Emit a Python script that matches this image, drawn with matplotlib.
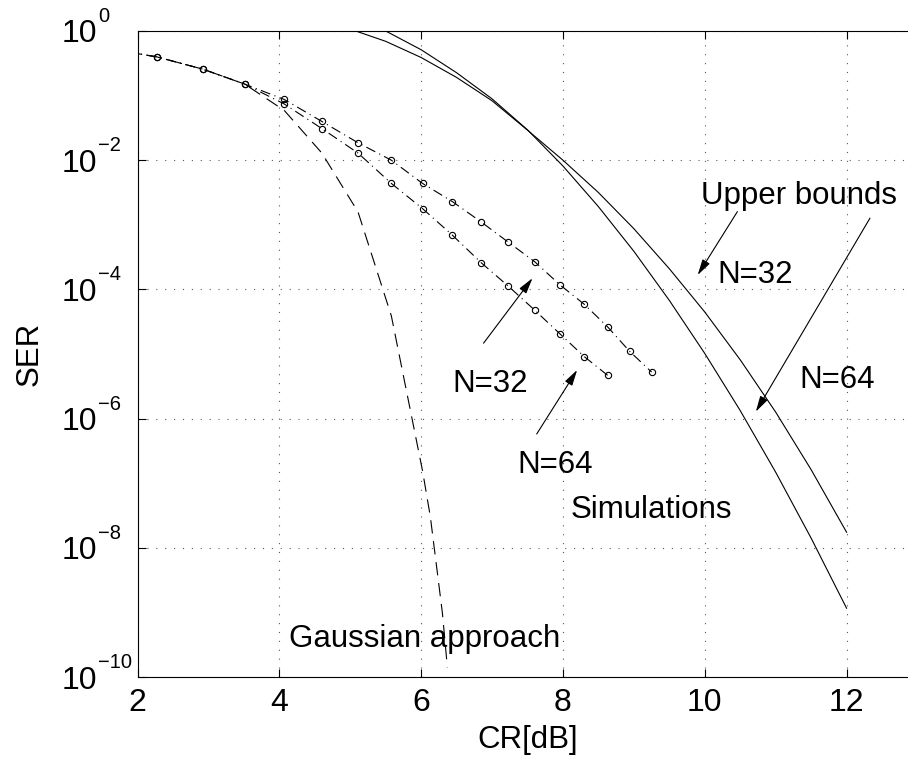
import numpy as np
import matplotlib
matplotlib.use("Agg")
import matplotlib.pyplot as plt
import matplotlib.transforms as mtransforms

plt.rcParams['font.family'] = ['Liberation Sans', 'DejaVu Sans']
plt.rcParams['font.size'] = 22.5

# simulations (CR in dB, SER)
sim_cr = [1.57, 2.27, 2.92, 3.51, 4.07, 4.60, 5.11, 5.58, 6.02, 6.44,
          6.85, 7.23, 7.60, 7.96, 8.30, 8.63, 8.94, 9.25]
sim_n32 = [0.537, 0.398, 0.257, 0.151, 0.0871, 0.0398, 0.0186, 0.0100,
           4.37e-3, 2.29e-3, 1.10e-3, 5.37e-4, 2.69e-4, 1.17e-4, 5.89e-5,
           2.63e-5, 1.10e-5, 5.25e-6]
sim_n64 = [0.537, 0.398, 0.257, 0.151, 0.0741, 0.0309, 0.0129, 4.37e-3,
           1.78e-3, 6.92e-4, 2.57e-4, 1.12e-4, 4.79e-5, 2.04e-5, 9.12e-6,
           4.68e-6]

# gaussian approach
gauss_cr = [1.57, 2.27, 2.92, 3.51, 4.07, 4.60, 5.11, 5.58, 6.02, 6.13, 6.30, 6.37]
gauss_ser = [0.537, 0.398, 0.257, 0.151, 0.0589, 0.0129, 1.58e-3, 3.89e-5,
             1.55e-7, 3.02e-8, 9.77e-10, 1.41e-10]

# upper bounds
ub_cr = [5.0, 5.5, 6.0, 6.5, 7.0, 7.5, 8.0, 8.5, 9.0, 9.5, 10.0, 10.5,
         11.0, 11.5, 12.0]
ub32_ser = [1.07, 0.692, 0.389, 0.191, 0.0832, 0.0292, 0.0100, 3.16e-3,
            8.71e-4, 2.09e-4, 4.47e-5, 8.13e-6, 1.26e-6, 1.62e-7, 1.74e-8]
ub64_ser = [1.66, 1.0, 0.513, 0.226, 0.0891, 0.0295, 8.13e-3, 1.91e-3,
            3.89e-4, 6.76e-5, 1.02e-5, 1.33e-6, 1.48e-7, 1.41e-8, 1.16e-9]

y_ticks = [1e-10, 1e-8, 1e-6, 1e-4, 1e-2, 1]
y_exps = ['\u221210', '\u22128', '\u22126', '\u22124', '\u22122', '0']

fig = plt.figure(figsize=(9.08, 7.65), dpi=100)
# axes runs to CR=13, past the right edge of the picture
ax = fig.add_axes([137.5 / 908, 88 / 765, 780 / 908, 646 / 765])

lw = 0.8
ax.semilogy(ub_cr, ub32_ser, color='k', lw=lw)
ax.semilogy(ub_cr, ub64_ser, color='k', lw=lw)
ax.semilogy(gauss_cr, gauss_ser, color='k', lw=lw, linestyle=(0, (12, 7)))
ax.semilogy(sim_cr, sim_n32, color='k', lw=lw, linestyle=(0, (9, 4, 1, 4)),
            marker='o', ms=4.5, mfc='none', mew=0.8)
ax.semilogy(sim_cr[:len(sim_n64)], sim_n64, color='k', lw=lw,
            linestyle=(0, (9, 4, 1, 4)), marker='o', ms=4.5, mfc='none', mew=0.8)

ax.set_xlim(2, 13)
ax.set_ylim(1e-10, 1)
ax.set_xticks([2, 4, 6, 8, 10, 12])
ax.set_yticks(y_ticks)
ax.set_yticklabels(['10'] * len(y_ticks))
ax.yaxis.set_minor_locator(matplotlib.ticker.NullLocator())
ax.tick_params(which='major', direction='in', length=6, width=0.8,
               top=True, right=True, labelsize=23)
ax.tick_params(axis='x', pad=8)
# base "10" of each label starts at the same place, exponents stick out
ax.tick_params(axis='y', pad=54.5)
for lab in ax.get_yticklabels():
    lab.set_ha('left')

# MATLAB-style small exponents
exp_tr = mtransforms.blended_transform_factory(fig.transFigure, ax.transData) + \
    mtransforms.ScaledTranslation(0, 0.09, fig.dpi_scale_trans)
for yv, e in zip(y_ticks, y_exps):
    ax.text(98 / 908, yv, e, transform=exp_tr, fontsize=14.5,
            ha='left', va='baseline', clip_on=False)

ax.grid(True, which='major', color='0.35', lw=0.8, linestyle=(0, (1, 7)))
for s in ax.spines.values():
    s.set_linewidth(0.8)

ax.set_xlabel('CR[dB]', fontsize=22.5, va='center')
ax.set_ylabel('SER', fontsize=22.5, va='center')
ax.xaxis.set_label_coords(0.5, -0.0975)
ax.yaxis.set_label_coords(-0.138, 0.5)

arrow = dict(arrowstyle='-|>,head_length=0.6,head_width=0.16', mutation_scale=16,
             color='k', lw=0.8, shrinkA=0, shrinkB=0)

ax.text(9.95, 2.1e-3, 'Upper bounds', ha='left', va='baseline')
ax.annotate('', xy=(9.90, 1.67e-4), xytext=(10.46, 1.6e-3), arrowprops=arrow)
ax.annotate('', xy=(10.72, 1.28e-6), xytext=(12.33, 1.27e-3), arrowprops=arrow)
ax.text(10.18, 1.24e-4, 'N=32', ha='left', va='baseline')
ax.text(11.33, 2.98e-6, 'N=64', ha='left', va='baseline')

ax.text(6.44, 2.61e-6, 'N=32', ha='left', va='baseline')
ax.annotate('', xy=(7.57, 1.49e-4), xytext=(6.88, 1.47e-5), arrowprops=arrow)
ax.text(7.36, 1.42e-7, 'N=64', ha='left', va='baseline')
ax.annotate('', xy=(8.20, 5.65e-6), xytext=(7.63, 5.78e-7), arrowprops=arrow)
ax.text(8.11, 2.86e-8, 'Simulations', ha='left', va='baseline')
ax.text(4.14, 2.94e-10, 'Gaussian approach', ha='left', va='baseline')

fig.savefig('out.png', dpi=100)
